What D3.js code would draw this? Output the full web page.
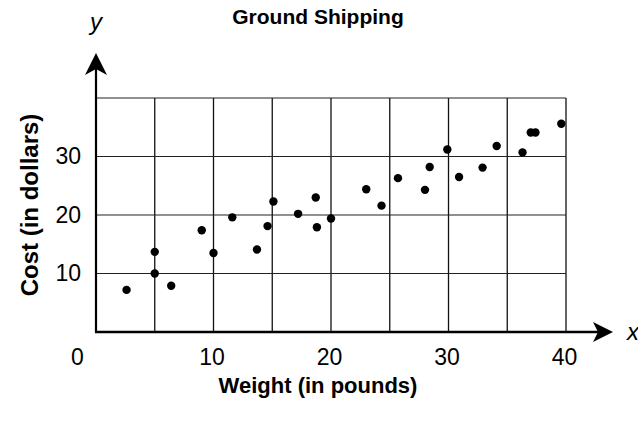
<!DOCTYPE html>
<html>
<head>
<meta charset="utf-8">
<script src="https://cdn.jsdelivr.net/npm/d3@7"></script>
<style>
  body { margin: 0; background: #fff; }
  svg { display: block; font-family: "Liberation Sans", Arial, sans-serif; }
</style>
</head>
<body>
<div class="chart"></div>
<script>
// values
const weights = [2.6, 5, 5, 6.4, 9, 10, 11.6, 13.7, 14.6, 15.1, 17.2, 18.7, 18.8, 20,
                 23, 24.3, 25.7, 28, 28.4, 29.9, 30.9, 32.9, 34.1, 36.3, 37.0, 37.4, 39.6];
const costs   = [7.2, 13.7, 10, 7.9, 17.4, 13.5, 19.6, 14.1, 18.1, 22.3, 20.2, 23, 17.9, 19.4,
                 24.4, 21.6, 26.3, 24.3, 28.2, 31.2, 26.5, 28.1, 31.8, 30.7, 34.1, 34.1, 35.6];
const xTicks = [0, 10, 20, 30, 40];
const yTicks = [10, 20, 30];
const xGrid = [5, 10, 15, 20, 25, 30, 35, 40];
const yGrid = [10, 20, 30, 40];

const data = weights.map((w, i) => ({weight: w, cost: costs[i]}));

const W = 638, H = 425;
const svg = d3.select(".chart").append("svg")
    .attr("width", W).attr("height", H);

const xScale = d3.scaleLinear().domain([0, 40]).range([96, 566]);
const yScale = d3.scaleLinear().domain([0, 40]).range([332, 98]);

//grid
svg.append("g").selectAll("line")
    .data(xGrid).join("line")
    .attr("x1", d => xScale(d)).attr("x2", d => xScale(d))
    .attr("y1", yScale(0)).attr("y2", yScale(40))
    .attr("stroke", "#111").attr("stroke-width", 1.3);

svg.append("g").selectAll("line")
    .data(yGrid).join("line")
    .attr("x1", xScale(0)).attr("x2", xScale(40))
    .attr("y1", d => yScale(d)).attr("y2", d => yScale(d))
    .attr("stroke", "#222").attr("stroke-width", 1.1);

//axes with arrows
const xEnd = 613, yEnd = 53;
svg.append("line")
    .attr("x1", xScale(0) - 1).attr("x2", xEnd - 10)
    .attr("y1", yScale(0)).attr("y2", yScale(0))
    .attr("stroke", "#000").attr("stroke-width", 2.6);
svg.append("line")
    .attr("x1", xScale(0)).attr("x2", xScale(0))
    .attr("y1", yScale(0) + 1).attr("y2", yEnd + 12)
    .attr("stroke", "#000").attr("stroke-width", 2.2);

svg.append("path")
    .attr("d", `M${xEnd},${yScale(0)} L${xEnd - 20},${yScale(0) - 10} L${xEnd - 15},${yScale(0)} L${xEnd - 20},${yScale(0) + 10}Z`)
    .attr("fill", "#000");
svg.append("path")
    .attr("d", `M${xScale(0)},${yEnd} L${xScale(0) - 11},${yEnd + 22} L${xScale(0)},${yEnd + 16} L${xScale(0) + 11},${yEnd + 22}Z`)
    .attr("fill", "#000");

//tick labels
const xAxis = d3.axisBottom(xScale).tickValues(xTicks).tickSize(0).tickPadding(17);
const xAxisGroup = svg.append("g")
    .attr("transform", `translate(0,${yScale(0)})`)
    .call(xAxis)
    .call(g => g.select(".domain").remove());
xAxisGroup.selectAll("text")
    .attr("font-size", 23).attr("fill", "#000")
    .attr("font-family", "\"Liberation Sans\", Arial, sans-serif")
    .attr("dx", d => d === 0 ? -19 : -2);

const yAxis = d3.axisLeft(yScale).tickValues(yTicks).tickSize(0).tickPadding(15);
const yAxisGroup = svg.append("g")
    .attr("transform", `translate(${xScale(0)},0)`)
    .call(yAxis)
    .call(g => g.select(".domain").remove());
yAxisGroup.selectAll("text")
    .attr("font-size", 23).attr("fill", "#000")
    .attr("font-family", "\"Liberation Sans\", Arial, sans-serif");

//points
svg.append("g").selectAll("circle")
    .data(data).join("circle")
    .attr("cx", d => xScale(d.weight))
    .attr("cy", d => yScale(d.cost))
    .attr("r", 4.2)
    .attr("fill", "#000");

//labels
svg.append("text")
    .attr("x", 318).attr("y", 24)
    .attr("text-anchor", "middle")
    .attr("font-size", 21).attr("font-weight", "bold")
    .text("Ground Shipping");

svg.append("text")
    .attr("x", 318).attr("y", 393)
    .attr("text-anchor", "middle")
    .attr("font-size", 22).attr("font-weight", "bold")
    .text("Weight (in pounds)");

svg.append("text")
    .attr("transform", `translate(38,${yScale(20) - 10}) rotate(-90)`)
    .attr("text-anchor", "middle")
    .attr("font-size", 24).attr("font-weight", "bold")
    .text("Cost (in dollars)");

svg.append("text")
    .attr("x", xScale(0)).attr("y", 30)
    .attr("text-anchor", "middle")
    .attr("font-size", 24).attr("font-style", "italic")
    .text("y");

svg.append("text")
    .attr("x", 633).attr("y", 340)
    .attr("text-anchor", "middle")
    .attr("font-size", 24).attr("font-style", "italic")
    .text("x");
</script>
</body>
</html>
